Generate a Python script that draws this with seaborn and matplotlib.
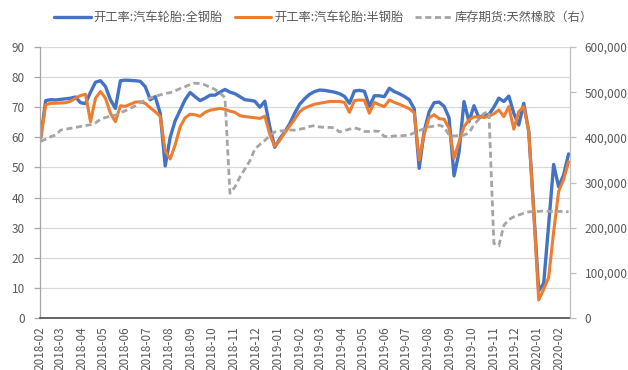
import matplotlib
matplotlib.use("Agg")
import matplotlib.pyplot as plt
import matplotlib.dates as mdates
from matplotlib.ticker import MultipleLocator, FuncFormatter
import pandas as pd
import seaborn as sns

# Weekly observations, 2018-02-02 through 2020-02-14
dates = pd.date_range("2018-02-02", periods=107, freq="7D")

# 开工率:汽车轮胎:全钢胎 (%)
all_steel = [60.0, 72.2, 72.5, 72.4, 72.6, 72.8, 73.0, 73.4, 71.5, 71.2,
             75.0, 78.3, 78.8, 76.9, 72.5, 69.6, 78.8, 79.0, 78.9, 78.8,
             78.6, 76.8, 72.5, 73.5, 68.0, 50.5, 60.0, 65.5, 69.0, 72.5,
             74.9, 73.5, 72.2, 73.0, 74.0, 74.0, 75.0, 75.9, 75.0, 74.5,
             73.5, 72.5, 72.3, 72.0, 70.0, 72.0, 63.5, 56.7, 59.5, 61.8,
             64.5, 68.0, 71.0, 72.8, 74.3, 75.2, 75.7, 75.6, 75.3, 75.0,
             74.5, 73.6, 71.3, 75.4, 75.6, 75.3, 70.3, 73.8, 73.8, 73.5,
             76.3, 75.2, 74.5, 73.6, 72.5, 69.5, 49.7, 62.0, 68.5, 71.5,
             71.7, 70.3, 66.5, 47.2, 55.0, 71.9, 65.2, 70.5, 66.5, 67.4,
             67.6, 70.0, 73.0, 71.9, 73.7, 68.0, 64.1, 71.3, 62.0, 36.0,
             9.0, 11.5, 31.0, 51.0, 43.6, 47.5, 54.5]

# 开工率:汽车轮胎:半钢胎 (%)
semi_steel = [59.7, 70.8, 71.3, 71.3, 71.4, 71.5, 72.0, 73.0, 73.9, 74.3,
              65.2, 73.0, 75.2, 73.0, 68.0, 65.2, 70.5, 70.3, 71.0, 71.7,
              71.8, 71.3, 69.8, 68.5, 67.0, 55.5, 52.8, 57.5, 63.5, 66.5,
              67.7, 67.5, 67.0, 68.3, 69.0, 69.3, 69.6, 69.3, 68.7, 68.3,
              67.2, 66.9, 66.7, 66.5, 66.3, 67.0, 61.0, 57.0, 59.0, 61.5,
              63.8, 66.0, 68.5, 69.7, 70.4, 71.0, 71.3, 71.6, 71.9, 71.9,
              71.9, 71.6, 68.3, 72.2, 72.4, 72.3, 68.0, 71.6, 70.8, 70.2,
              72.4, 71.6, 71.0, 70.3, 69.5, 68.2, 52.5, 61.0, 66.5, 67.5,
              66.2, 66.0, 63.0, 53.0, 58.5, 63.5, 65.8, 66.8, 66.8, 66.6,
              67.0, 67.8, 69.1, 66.9, 70.2, 62.7, 68.5, 70.2, 62.0, 35.0,
              6.0, 9.5, 13.5, 28.5, 42.0, 46.0, 51.9]

# 库存期货:天然橡胶 (吨, right axis)
rubber_stock = [391000, 396000, 401500, 405000, 416000, 418000, 420000, 422000, 424000, 426000,
                428000, 432000, 440000, 444000, 447000, 449000, 454000, 459000, 464000, 470000,
                477000, 482000, 487000, 491000, 494000, 497000, 499000, 503000, 508000, 512000,
                517000, 520000, 519000, 516000, 511000, 506000, 498000, 488000, 276000, 290000,
                312000, 330000, 348000, 374000, 384000, 393000, 404000, 412000, 414000, 415000,
                416000, 416000, 418000, 420000, 424000, 426000, 423000, 422000, 422000, 421000,
                412000, 415000, 418000, 421000, 418000, 413000, 413000, 414000, 413000, 402000,
                401500, 403000, 403000, 404000, 405000, 410000, 415000, 419000, 423000, 425000,
                427000, 423000, 405000, 403000, 404000, 405000, 410000, 428000, 440000, 453000,
                457000, 165000, 160000, 205000, 218000, 224000, 228000, 232000, 235000, 236000,
                236000, 237000, 236000, 236000, 236000, 236000, 235000]

labels = ["开工率:汽车轮胎:全钢胎", "开工率:汽车轮胎:半钢胎", "库存期货:天然橡胶（右）"]
month_ticks = pd.date_range("2018-02-01", "2020-02-01", freq="MS")

BLUE, ORANGE, GRAY = "#4472C4", "#ED7D31", "#A5A5A5"
TXT = "#595959"

sns.set_style("white")
plt.rcParams["font.family"] = ["Noto Sans CJK SC", "DejaVu Sans"]

fig = plt.figure(figsize=(6.28, 3.70), dpi=100)
ax = fig.add_axes([40 / 628, 1 - 318 / 370, 530 / 628, 271 / 370])
ax2 = ax.twinx()

sns.lineplot(x=dates, y=all_steel, ax=ax, color=BLUE, linewidth=2.4, legend=False)
sns.lineplot(x=dates, y=semi_steel, ax=ax, color=ORANGE, linewidth=2.2, legend=False)
sns.lineplot(x=dates, y=rubber_stock, ax=ax2, color=GRAY, linewidth=2.0,
             linestyle=(0, (2.2, 1.3)), legend=False)

# left axis
ax.set_ylim(0, 90)
ax.yaxis.set_major_locator(MultipleLocator(10))
ax.yaxis.grid(True, color="#D9D9D9", linewidth=0.9)
ax.xaxis.grid(False)
ax.set_axisbelow(True)

# right axis
ax2.set_ylim(0, 600000)
ax2.yaxis.set_major_locator(MultipleLocator(100000))
ax2.yaxis.set_major_formatter(FuncFormatter(lambda v, p: f"{int(v):,}"))
ax2.grid(False)

# date axis
ax.set_xlim(pd.Timestamp("2018-02-01"), pd.Timestamp("2020-02-16"))
ax.set_xticks(month_ticks)
ax.xaxis.set_major_formatter(mdates.DateFormatter("%Y-%m"))
for lbl in ax.get_xticklabels():
    lbl.set_rotation(90)

ax.set_xlabel("")
ax.set_ylabel("")
ax2.set_ylabel("")

for a in (ax, ax2):
    for s in a.spines.values():
        s.set_visible(False)
ax.spines["left"].set_visible(True)
ax.spines["left"].set_color("#A6A6A6")
ax.spines["left"].set_linewidth(0.9)
ax.spines["bottom"].set_visible(True)
ax.spines["bottom"].set_color("#595959")
ax.spines["bottom"].set_linewidth(1.3)
ax2.spines["right"].set_visible(True)
ax2.spines["right"].set_color("#BFBFBF")
ax2.spines["right"].set_linewidth(0.9)

ax.tick_params(axis="x", direction="out", length=4, width=1.0, color="#595959",
               labelsize=8.5, labelcolor=TXT, pad=2)
ax.tick_params(axis="y", direction="out", length=4.5, width=0.9, color="#A6A6A6",
               labelsize=8.5, labelcolor=TXT, pad=6.5)
ax2.tick_params(axis="y", direction="out", length=4.5, width=0.9, color="#BFBFBF",
                labelsize=8.5, labelcolor=TXT, pad=6)

handles = [ax.get_lines()[0], ax.get_lines()[1], ax2.get_lines()[0]]
fig.legend(handles, labels, loc="center", bbox_to_anchor=(0.515, 0.952), ncol=3,
           frameon=False, fontsize=8.8, labelcolor=TXT, handlelength=3.0,
           handletextpad=0.2, columnspacing=1.0, borderaxespad=0)

fig.savefig("out.png", dpi=100)
